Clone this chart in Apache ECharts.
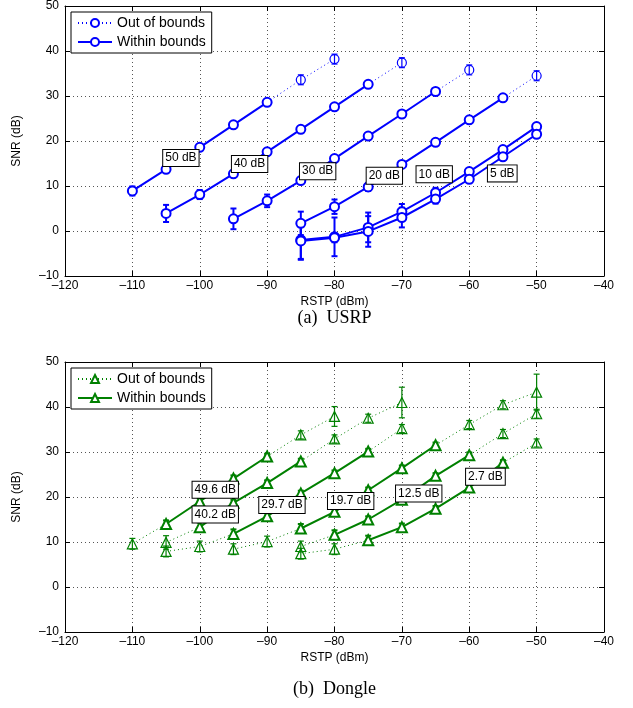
<!DOCTYPE html>
<html>
<head>
<meta charset="utf-8">
<script src="https://cdn.jsdelivr.net/npm/echarts@6/dist/echarts.min.js"></script>
<style>
  html, body { margin: 0; padding: 0; background: #fff; }
  #chart { width: 633px; height: 708px; }
</style>
</head>
<body>
<div id="chart"></div>
<script>
// Axis ranges shared by both panels
const rstpTicks = [-120, -110, -100, -90, -80, -70, -60, -50, -40];
const snrTicks = [-10, 0, 10, 20, 30, 40, 50];

// ---- (a) USRP: [RSTP dBm, SNR dB, error dB] ----
const usrp50In  = [[-110, 8.9, 1.0], [-105, 13.7, 0.5], [-100, 18.6, 0.5], [-95, 23.6, 0.4], [-90, 28.6, 0.4]];
const usrp50Out = [[-85, 33.6, 1.1], [-80, 38.2, 1.1]];
const usrp40In  = [[-105, 3.9, 1.9], [-100, 8.1, 1.0], [-95, 12.7, 0.6], [-90, 17.6, 0.5], [-85, 22.6, 0.4], [-80, 27.6, 0.4], [-75, 32.6, 0.4]];
const usrp40Out = [[-70, 37.4, 1.1]];
const usrp30In  = [[-95, 2.7, 2.3], [-90, 6.7, 1.4], [-85, 11.2, 0.6], [-80, 16.1, 0.5], [-75, 21.1, 0.5], [-70, 26.0, 0.4], [-65, 31.0, 0.4]];
const usrp30Out = [[-60, 35.8, 1.1]];
const usrp20In  = [[-85, 1.7, 2.6], [-80, 5.4, 1.6], [-75, 9.8, 0.9], [-70, 14.8, 0.6], [-65, 19.7, 0.5], [-60, 24.7, 0.4], [-55, 29.6, 0.4]];
const usrp20Out = [[-50, 34.5, 1.1]];
const usrp10In  = [[-85, -2.0, 4.4], [-80, -1.3, 4.3], [-75, 0.8, 3.3], [-70, 4.3, 1.7], [-65, 8.5, 1.1], [-60, 13.2, 0.6], [-55, 18.1, 0.5], [-50, 23.2, 0.4]];
const usrp10Out = [];
const usrp5In   = [[-85, -2.2, 4.0], [-80, -1.5, 1.0], [-75, -0.1, 3.4], [-70, 3.0, 2.2], [-65, 7.1, 1.0], [-60, 11.5, 0.5], [-55, 16.5, 0.5], [-50, 21.5, 0.4]];
const usrp5Out  = [];
const usrpTags  = ['50 dB', '40 dB', '30 dB', '20 dB', '10 dB', '5 dB'];
const usrpTagAt = [[-102.8, 16.2], [-92.6, 14.9], [-82.5, 13.3], [-72.6, 12.3], [-65.2, 12.6], [-55.1, 12.8]];

// ---- (b) Dongle: [RSTP dBm, SNR dB, error dB] ----
const dg496Left = [[-110, 9.6, 1.2]];
const dg496In   = [[-105, 14.0, 0.8], [-100, 19.0, 0.7], [-95, 24.1, 0.7], [-90, 29.0, 0.6]];
const dg496Right = [[-85, 33.8, 0.9], [-80, 37.9, 2.2]];
const dg402Left = [[-105, 9.9, 1.5]];
const dg402In   = [[-100, 13.3, 1.0], [-95, 18.7, 0.7], [-90, 23.1, 0.6], [-85, 27.9, 0.6]];
const dg402Right = [[-80, 32.9, 0.9], [-75, 37.5, 0.9], [-70, 41.0, 3.4]];
const dg297Left = [[-105, 7.9, 1.2], [-100, 9.0, 1.2]];
const dg297In   = [[-95, 11.8, 1.0], [-90, 15.7, 0.7], [-85, 20.8, 0.6], [-80, 25.3, 0.6], [-75, 30.1, 0.6]];
const dg297Right = [[-70, 35.2, 0.9]];
const dg197Left = [[-95, 8.4, 1.2], [-90, 10.1, 1.2]];
const dg197In   = [[-85, 13.0, 1.0], [-80, 16.7, 0.7], [-75, 21.5, 0.6], [-70, 26.4, 0.6], [-65, 31.5, 0.6]];
const dg197Right = [[-60, 36.1, 0.9], [-55, 40.5, 0.9], [-50, 43.3, 4.0]];
const dg125Left = [[-85, 9.0, 1.2]];
const dg125In   = [[-80, 11.6, 1.0], [-75, 15.0, 0.7], [-70, 19.4, 0.6], [-65, 24.7, 0.6], [-60, 29.3, 0.6]];
const dg125Right = [[-55, 34.1, 0.9], [-50, 38.5, 1.0]];
const dg27Left  = [[-85, 7.4, 1.2], [-80, 8.4, 1.2]];
const dg27In    = [[-75, 10.4, 1.0], [-70, 13.3, 0.8], [-65, 17.4, 0.6], [-60, 22.1, 0.6], [-55, 27.6, 0.6]];
const dg27Right = [[-50, 32.0, 0.9]];
const dongleTags  = ['49.6 dB', '40.2 dB', '29.7 dB', '19.7 dB', '12.5 dB', '2.7 dB'];
const dongleTagAt = [[-97.7, 21.6], [-97.7, 16.1], [-87.8, 18.2], [-77.6, 19.1], [-67.5, 20.8], [-57.6, 24.5]];

const BLUE = '#0000ff';
const GREEN = '#008000';
const FONT = 'Liberation Sans, Arial, Helvetica, sans-serif';

// panel geometry (pixels)
const panels = [
  { top: 6, height: 270 },
  { top: 362, height: 270 }
];
const PLOT_LEFT = 65, PLOT_WIDTH = 539;

const fmtTick = v => (v < 0 ? '\u2013' + Math.abs(v) : String(v));

function mainX(gi) {
  return {
    gridIndex: gi, type: 'value', min: rstpTicks[0], max: rstpTicks[rstpTicks.length - 1],
    interval: rstpTicks[1] - rstpTicks[0],
    name: 'RSTP (dBm)', nameLocation: 'middle', nameGap: 20,
    nameTextStyle: { color: '#000', fontSize: 12, fontFamily: FONT },
    axisLine: { onZero: false, lineStyle: { color: '#000', width: 1 } },
    axisTick: { inside: true, length: 5, lineStyle: { color: '#000' } },
    axisLabel: { color: '#000', fontSize: 12, fontFamily: FONT, margin: 4, formatter: fmtTick },
    splitLine: { show: true, lineStyle: { color: '#555', width: 1, type: [1, 3] } }
  };
}
function mirrorX(gi) {
  return {
    gridIndex: gi, type: 'value', position: 'top', min: rstpTicks[0], max: rstpTicks[rstpTicks.length - 1],
    interval: rstpTicks[1] - rstpTicks[0],
    axisLine: { onZero: false, lineStyle: { color: '#000', width: 1 } },
    axisTick: { inside: true, length: 5, lineStyle: { color: '#000' } },
    axisLabel: { show: false }, splitLine: { show: false }
  };
}
function mainY(gi) {
  return {
    gridIndex: gi, type: 'value', min: snrTicks[0], max: snrTicks[snrTicks.length - 1],
    interval: snrTicks[1] - snrTicks[0],
    name: 'SNR (dB)', nameLocation: 'middle', nameGap: 42,
    nameTextStyle: { color: '#000', fontSize: 12, fontFamily: FONT },
    axisLine: { show: true, onZero: false, lineStyle: { color: '#000', width: 1 } },
    axisTick: { show: true, inside: true, length: 5, lineStyle: { color: '#000' } },
    axisLabel: { color: '#000', fontSize: 12, fontFamily: FONT, margin: 6, formatter: fmtTick },
    splitLine: { show: true, lineStyle: { color: '#555', width: 1, type: [1, 3] } }
  };
}
function mirrorY(gi) {
  return {
    gridIndex: gi, type: 'value', position: 'right', min: snrTicks[0], max: snrTicks[snrTicks.length - 1],
    interval: snrTicks[1] - snrTicks[0],
    axisLine: { show: true, onZero: false, lineStyle: { color: '#000', width: 1 } },
    axisTick: { show: true, inside: true, length: 5, lineStyle: { color: '#000' } },
    axisLabel: { show: false }, splitLine: { show: false }
  };
}

// vertical error bars with short caps
function errorBarRenderer(color, width) {
  return function (params, api) {
    const x = api.value(0), y = api.value(1), e = api.value(2);
    const hi = api.coord([x, y + e]);
    const lo = api.coord([x, y - e]);
    const cap = 3;
    const style = { stroke: color, lineWidth: width, fill: null };
    return {
      type: 'group',
      children: [
        { type: 'line', shape: { x1: hi[0], y1: hi[1], x2: lo[0], y2: lo[1] }, style: style },
        { type: 'line', shape: { x1: hi[0] - cap, y1: hi[1], x2: hi[0] + cap, y2: hi[1] }, style: style },
        { type: 'line', shape: { x1: lo[0] - cap, y1: lo[1], x2: lo[0] + cap, y2: lo[1] }, style: style }
      ]
    };
  };
}

const series = [];

function withinLine(name, pts, gi, color, symbol, size) {
  series.push({
    name: name, type: 'line', xAxisIndex: gi * 2, yAxisIndex: gi * 2, z: 5,
    data: pts.map(p => [p[0], p[1]]),
    symbol: symbol, symbolSize: size, showSymbol: true,
    lineStyle: { color: color, width: 2 },
    itemStyle: { color: '#fff', borderColor: color, borderWidth: 2 },
    emphasis: { disabled: true }, animation: false
  });
  series.push({
    type: 'custom', xAxisIndex: gi * 2, yAxisIndex: gi * 2, z: 4,
    renderItem: errorBarRenderer(color, 2), encode: { x: 0, y: 1 },
    data: pts, animation: false, silent: true
  });
}

// dotted continuation; joint points connect to the solid line without a marker
function outLine(name, leftPts, joints, rightPts, gi, color, symbol, size) {
  const segs = [];
  if (leftPts.length) {
    segs.push(leftPts.map(p => [p[0], p[1]]).concat([{ value: joints[0], symbol: 'none' }]));
  }
  if (rightPts.length) {
    segs.push([{ value: joints[1], symbol: 'none' }].concat(rightPts.map(p => [p[0], p[1]])));
  }
  segs.forEach(data => {
    series.push({
      name: name, type: 'line', xAxisIndex: gi * 2, yAxisIndex: gi * 2, z: 2,
      data: data, symbol: symbol, symbolSize: size, showSymbol: true,
      lineStyle: { color: color, width: 1, type: [1, 3] },
      itemStyle: { color: '#fff', borderColor: color, borderWidth: 1.2 },
      emphasis: { disabled: true }, animation: false
    });
  });
  const all = leftPts.concat(rightPts);
  if (all.length) {
    series.push({
      type: 'custom', xAxisIndex: gi * 2, yAxisIndex: gi * 2, z: 3,
      renderItem: errorBarRenderer(color, 1.2), encode: { x: 0, y: 1 },
      data: all, animation: false, silent: true
    });
  }
}

function panel(gi, color, symbol, size, groups, tags, tagAt, outName, inName) {
  groups.forEach(g => {
    const inPts = g[1];
    const joints = [[inPts[0][0], inPts[0][1]], [inPts[inPts.length - 1][0], inPts[inPts.length - 1][1]]];
    outLine(outName, g[0], joints, g[2], gi, color, symbol, size);
    withinLine(inName, inPts, gi, color, symbol, size);
  });
  series.push({
    type: 'scatter', xAxisIndex: gi * 2, yAxisIndex: gi * 2, z: 10,
    symbolSize: 1, silent: true, animation: false,
    itemStyle: { opacity: 1, color: 'rgba(0,0,0,0)' },
    data: tags.map((t, i) => ({ name: t, value: tagAt[i] })),
    label: {
      show: true, position: 'inside', formatter: '{b}', color: '#000', opacity: 1,
      fontSize: 12, fontFamily: FONT, lineHeight: 13,
      backgroundColor: '#fff', borderColor: '#000', borderWidth: 1, padding: [2, 2, 1, 2]
    }
  });
}

panel(0, BLUE, 'circle', 9, [
  [[], usrp50In, usrp50Out],
  [[], usrp40In, usrp40Out],
  [[], usrp30In, usrp30Out],
  [[], usrp20In, usrp20Out],
  [[], usrp10In, usrp10Out],
  [[], usrp5In, usrp5Out]
], usrpTags, usrpTagAt, 'usrpOut', 'usrpIn');

panel(1, GREEN, 'triangle', 10, [
  [dg496Left, dg496In, dg496Right],
  [dg402Left, dg402In, dg402Right],
  [dg297Left, dg297In, dg297Right],
  [dg197Left, dg197In, dg197Right],
  [dg125Left, dg125In, dg125Right],
  [dg27Left, dg27In, dg27Right]
], dongleTags, dongleTagAt, 'dongleOut', 'dongleIn');

const legendText = {
  usrpOut: 'Out of bounds', usrpIn: 'Within bounds',
  dongleOut: 'Out of bounds', dongleIn: 'Within bounds'
};
function legendFor(top, names) {
  return {
    data: names, orient: 'vertical', left: PLOT_LEFT + 6, top: top,
    backgroundColor: '#fff', borderColor: '#000', borderWidth: 1,
    padding: [4, 6, 4, 6], itemGap: 5, itemWidth: 34, itemHeight: 10,
    selectedMode: false, formatter: n => legendText[n],
    textStyle: { color: '#000', fontSize: 14, fontFamily: FONT }
  };
}

const chart = echarts.init(document.getElementById('chart'), null, { renderer: 'canvas' });
chart.setOption({
  animation: false,
  backgroundColor: '#fff',
  grid: panels.map(p => ({ left: PLOT_LEFT, width: PLOT_WIDTH, top: p.top, height: p.height, containLabel: false })),
  xAxis: [mainX(0), mirrorX(0), mainX(1), mirrorX(1)],
  yAxis: [mainY(0), mirrorY(0), mainY(1), mirrorY(1)],
  legend: [legendFor(panels[0].top + 6, ['usrpOut', 'usrpIn']), legendFor(panels[1].top + 6, ['dongleOut', 'dongleIn'])],
  graphic: [
    { type: 'text', x: PLOT_LEFT + PLOT_WIDTH / 2, y: 309, style: { text: '(a)  USRP', textAlign: 'center', fill: '#000', font: '18px "Liberation Serif", "Times New Roman", serif' } },
    { type: 'text', x: PLOT_LEFT + PLOT_WIDTH / 2, y: 680, style: { text: '(b)  Dongle', textAlign: 'center', fill: '#000', font: '18px "Liberation Serif", "Times New Roman", serif' } }
  ],
  series: series
});
</script>
</body>
</html>
